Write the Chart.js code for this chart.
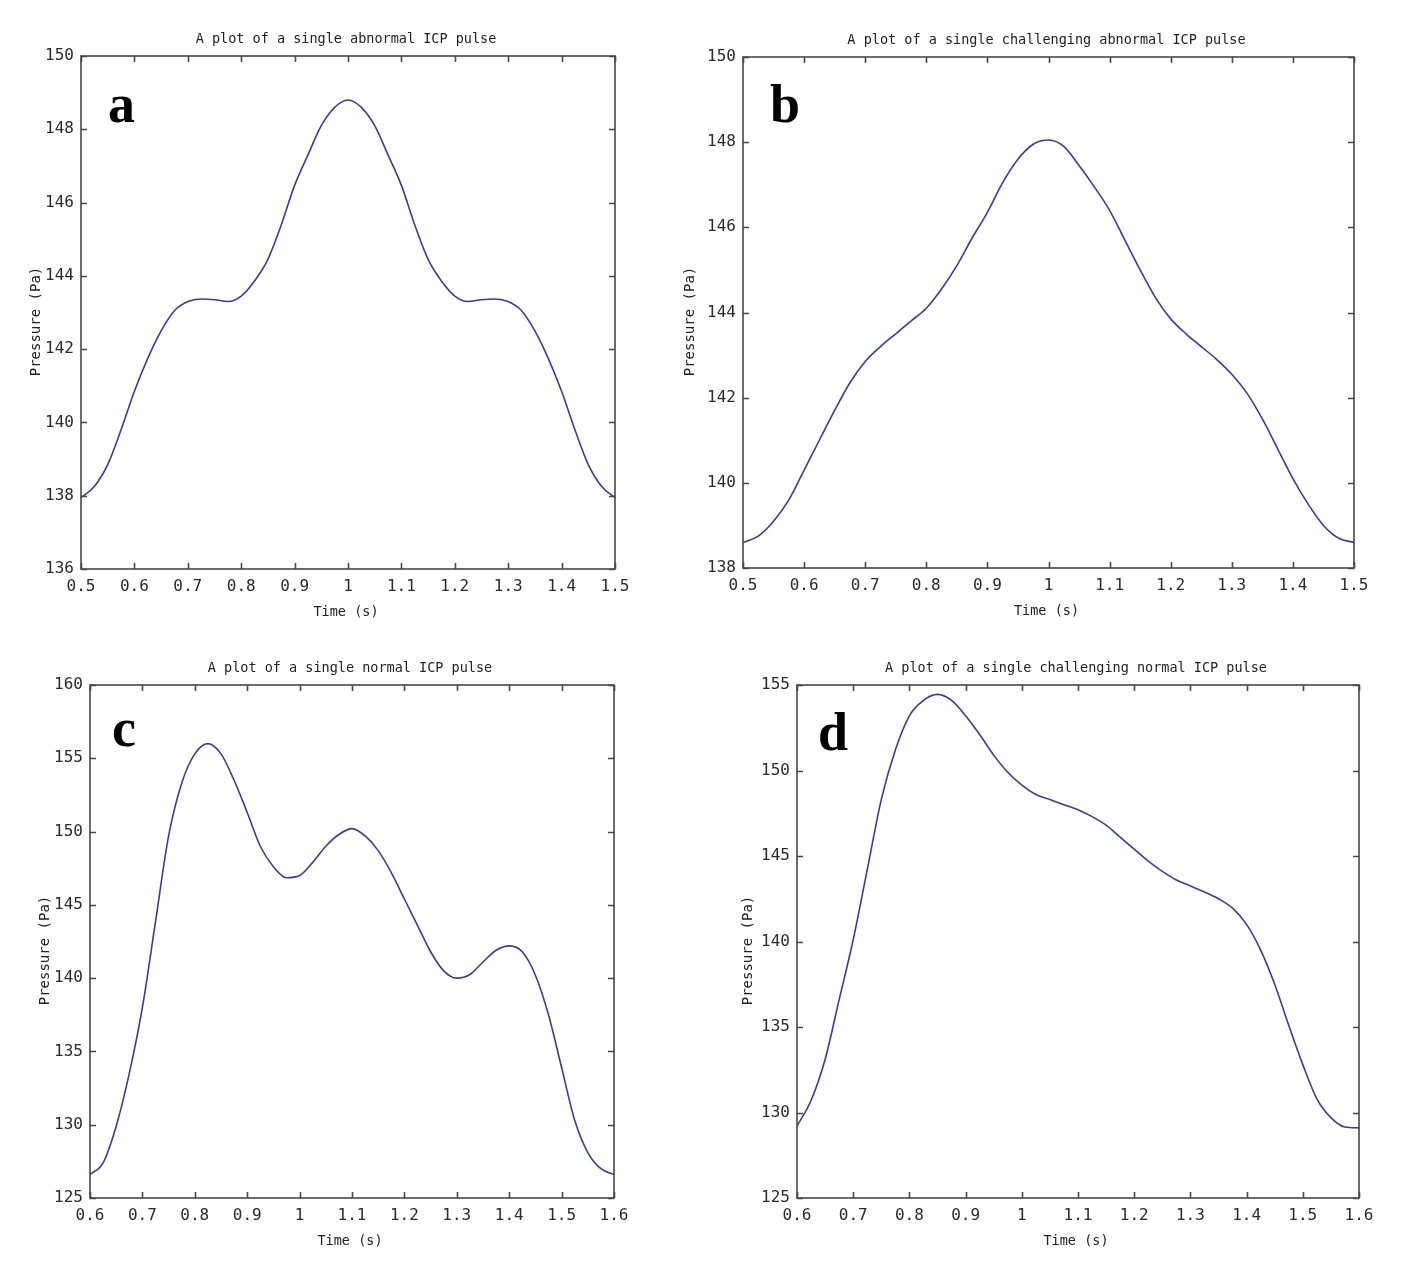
<!DOCTYPE html>
<html>
<head>
<meta charset="utf-8">
<script src="https://cdn.jsdelivr.net/npm/chart.js@4.4.1/dist/chart.umd.min.js"></script>
<style>
  html, body { margin: 0; padding: 0; background: #fff; }
  #wrap { position: relative; width: 1417px; height: 1283px; background: #fff; overflow: hidden; }
  canvas { position: absolute; }
</style>
</head>
<body>
<div id="wrap">
  <canvas id="ca" width="660" height="640" style="left:0;top:0"></canvas>
  <canvas id="cb" width="757" height="640" style="left:660px;top:0"></canvas>
  <canvas id="cc" width="660" height="643" style="left:0;top:640px"></canvas>
  <canvas id="cd" width="757" height="643" style="left:660px;top:640px"></canvas>
</div>
<script>
// ---------- DATA ----------
const timeAB = [0.500,0.525,0.550,0.575,0.600,0.625,0.650,0.675,0.700,0.725,0.750,0.775,0.800,0.825,0.850,0.875,0.900,0.925,0.950,0.975,1.000,1.025,1.050,1.075,1.100,1.125,1.150,1.175,1.200,1.225,1.250,1.275,1.300,1.325,1.350,1.375,1.400,1.425,1.450,1.475,1.500];
const timeCD = [0.600,0.625,0.650,0.675,0.700,0.725,0.750,0.775,0.800,0.825,0.850,0.875,0.900,0.925,0.950,0.975,1.000,1.025,1.050,1.075,1.100,1.125,1.150,1.175,1.200,1.225,1.250,1.275,1.300,1.325,1.350,1.375,1.400,1.425,1.450,1.475,1.500,1.525,1.550,1.575,1.600];

const pressureA = [137.95,138.25,138.85,139.8,140.85,141.75,142.5,143.05,143.3,143.37,143.35,143.3,143.45,143.86,144.45,145.39,146.47,147.3,148.1,148.6,148.8,148.6,148.1,147.3,146.47,145.39,144.45,143.86,143.45,143.3,143.35,143.37,143.3,143.05,142.5,141.75,140.85,139.8,138.85,138.25,137.95];
const pressureB = [138.6,138.75,139.1,139.6,140.3,141.0,141.7,142.35,142.85,143.2,143.5,143.8,144.1,144.55,145.1,145.75,146.35,147.05,147.6,147.95,148.05,147.9,147.45,146.95,146.4,145.7,145.0,144.35,143.85,143.5,143.2,142.9,142.55,142.1,141.5,140.8,140.1,139.5,139.0,138.7,138.6];
const pressureC = [126.6,127.4,129.9,133.5,138.0,143.85,149.7,153.3,155.3,156.0,155.3,153.5,151.3,149.0,147.6,146.85,147.0,147.9,149.0,149.8,150.2,149.7,148.7,147.2,145.4,143.6,141.8,140.5,140.0,140.25,141.1,141.9,142.2,141.8,140.2,137.5,133.9,130.3,128.1,127.0,126.6];
const pressureD = [129.2,130.7,133.1,136.6,140.1,144.2,148.3,151.2,153.2,154.1,154.45,154.1,153.2,152.1,150.9,149.9,149.15,148.6,148.3,148.0,147.7,147.3,146.8,146.1,145.4,144.7,144.1,143.6,143.25,142.9,142.5,141.95,141.0,139.5,137.5,135.1,132.8,130.8,129.7,129.15,129.1];

const xTicksAB = [0.5,0.6,0.7,0.8,0.9,1,1.1,1.2,1.3,1.4,1.5];
const xTicksCD = [0.6,0.7,0.8,0.9,1,1.1,1.2,1.3,1.4,1.5,1.6];
const yTicksA = [136,138,140,142,144,146,148,150];
const yTicksB = [138,140,142,144,146,148,150];
const yTicksC = [125,130,135,140,145,150,155,160];
const yTicksD = [125,130,135,140,145,150,155];

const titles = [
  'A plot of a single abnormal ICP pulse',
  'A plot of a single challenging abnormal ICP pulse',
  'A plot of a single normal ICP pulse',
  'A plot of a single challenging normal ICP pulse'
];
const letters = ['a','b','c','d'];
const xLabel = 'Time (s)';
const yLabel = 'Pressure (Pa)';

// ---------- PLUGIN: MATLAB-like frame, inward ticks, titles ----------
const matlabPlugin = {
  id: 'matlab',
  afterDraw(chart, args, o) {
    const ctx = chart.ctx, a = chart.chartArea, xs = chart.scales.x, ys = chart.scales.y;
    ctx.save();
    ctx.strokeStyle = '#474747';
    ctx.lineWidth = 1.6;
    ctx.strokeRect(a.left, a.top, a.right - a.left, a.bottom - a.top);
    ctx.beginPath();
    xs.ticks.forEach(t => {
      const p = Math.round(xs.getPixelForValue(t.value)) + 0.5;
      ctx.moveTo(p, a.bottom); ctx.lineTo(p, a.bottom - 6);
      ctx.moveTo(p, a.top); ctx.lineTo(p, a.top + 6);
    });
    ys.ticks.forEach(t => {
      const p = Math.round(ys.getPixelForValue(t.value)) + 0.5;
      ctx.moveTo(a.left, p); ctx.lineTo(a.left + 6, p);
      ctx.moveTo(a.right, p); ctx.lineTo(a.right - 6, p);
    });
    ctx.stroke();

    const cx = (a.left + a.right) / 2, cy = (a.top + a.bottom) / 2;
    ctx.fillStyle = '#222';
    ctx.textAlign = 'center';
    ctx.textBaseline = 'middle';
    ctx.font = '13.5px "DejaVu Sans Mono"';
    ctx.fillText(o.title, cx - 2, a.top - 17);
    ctx.fillText(xLabel, cx - 2, a.bottom + 43);
    ctx.save();
    ctx.translate(a.left - o.yLabelGap, cy + 9);
    ctx.rotate(-Math.PI / 2);
    ctx.font = '14px "DejaVu Sans Mono"';
    ctx.fillText(yLabel, 0, 0);
    ctx.restore();

    ctx.fillStyle = '#000';
    ctx.textAlign = 'left';
    ctx.textBaseline = 'alphabetic';
    ctx.font = 'bold 54px "Liberation Serif"';
    ctx.fillText(o.letter, a.left + o.letterDx, a.top + o.letterDy);
    ctx.restore();
  }
};

function fmt(v) { return String(Math.round(v * 10) / 10); }

function makeChart(id, time, pressure, xTicks, yTicks, pad, extra) {
  const pts = time.map((t, i) => ({ x: t, y: pressure[i] }));
  return new Chart(document.getElementById(id), {
    type: 'line',
    data: { datasets: [{ data: pts, borderColor: '#3b3b9a', borderWidth: 1.6, pointRadius: 0, cubicInterpolationMode: 'monotone', fill: false }] },
    options: {
      responsive: false,
      animation: false,
      layout: { padding: pad },
      plugins: { legend: { display: false }, tooltip: { enabled: false }, matlab: extra },
      scales: {
        x: {
          type: 'linear',
          min: xTicks[0], max: xTicks[xTicks.length - 1],
          afterBuildTicks: s => { s.ticks = xTicks.map(v => ({ value: v })); },
          afterFit: s => { s.height = 30; },
          grid: { display: false, drawTicks: false },
          border: { display: false },
          ticks: { padding: 8, color: '#2a2a2a', font: { family: 'DejaVu Sans Mono', size: 16 }, callback: v => fmt(v), maxRotation: 0, autoSkip: false }
        },
        y: {
          type: 'linear',
          min: yTicks[0], max: yTicks[yTicks.length - 1],
          afterBuildTicks: s => { s.ticks = yTicks.map(v => ({ value: v })); },
          afterFit: s => { s.width = 60; },
          grid: { display: false, drawTicks: false },
          border: { display: false },
          ticks: { padding: 7, color: '#2a2a2a', font: { family: 'DejaVu Sans Mono', size: 16 }, callback: v => fmt(v), autoSkip: false }
        }
      }
    },
    plugins: [matlabPlugin]
  });
}

makeChart('ca', timeAB, pressureA, xTicksAB, yTicksA, { left: 21, right: 45, top: 56, bottom: 41 },
  { title: titles[0], letter: letters[0], yLabelGap: 45, letterDx: 27, letterDy: 66 });
makeChart('cb', timeAB, pressureB, xTicksAB, yTicksB, { left: 23, right: 63, top: 57, bottom: 42 },
  { title: titles[1], letter: letters[1], yLabelGap: 53, letterDx: 27, letterDy: 65 });
makeChart('cc', timeCD, pressureC, xTicksCD, yTicksC, { left: 30, right: 46, top: 45, bottom: 55 },
  { title: titles[2], letter: letters[2], yLabelGap: 45, letterDx: 22, letterDy: 61 });
makeChart('cd', timeCD, pressureD, xTicksCD, yTicksD, { left: 77, right: 58, top: 45, bottom: 55 },
  { title: titles[3], letter: letters[3], yLabelGap: 49, letterDx: 21, letterDy: 65 });
</script>
</body>
</html>
